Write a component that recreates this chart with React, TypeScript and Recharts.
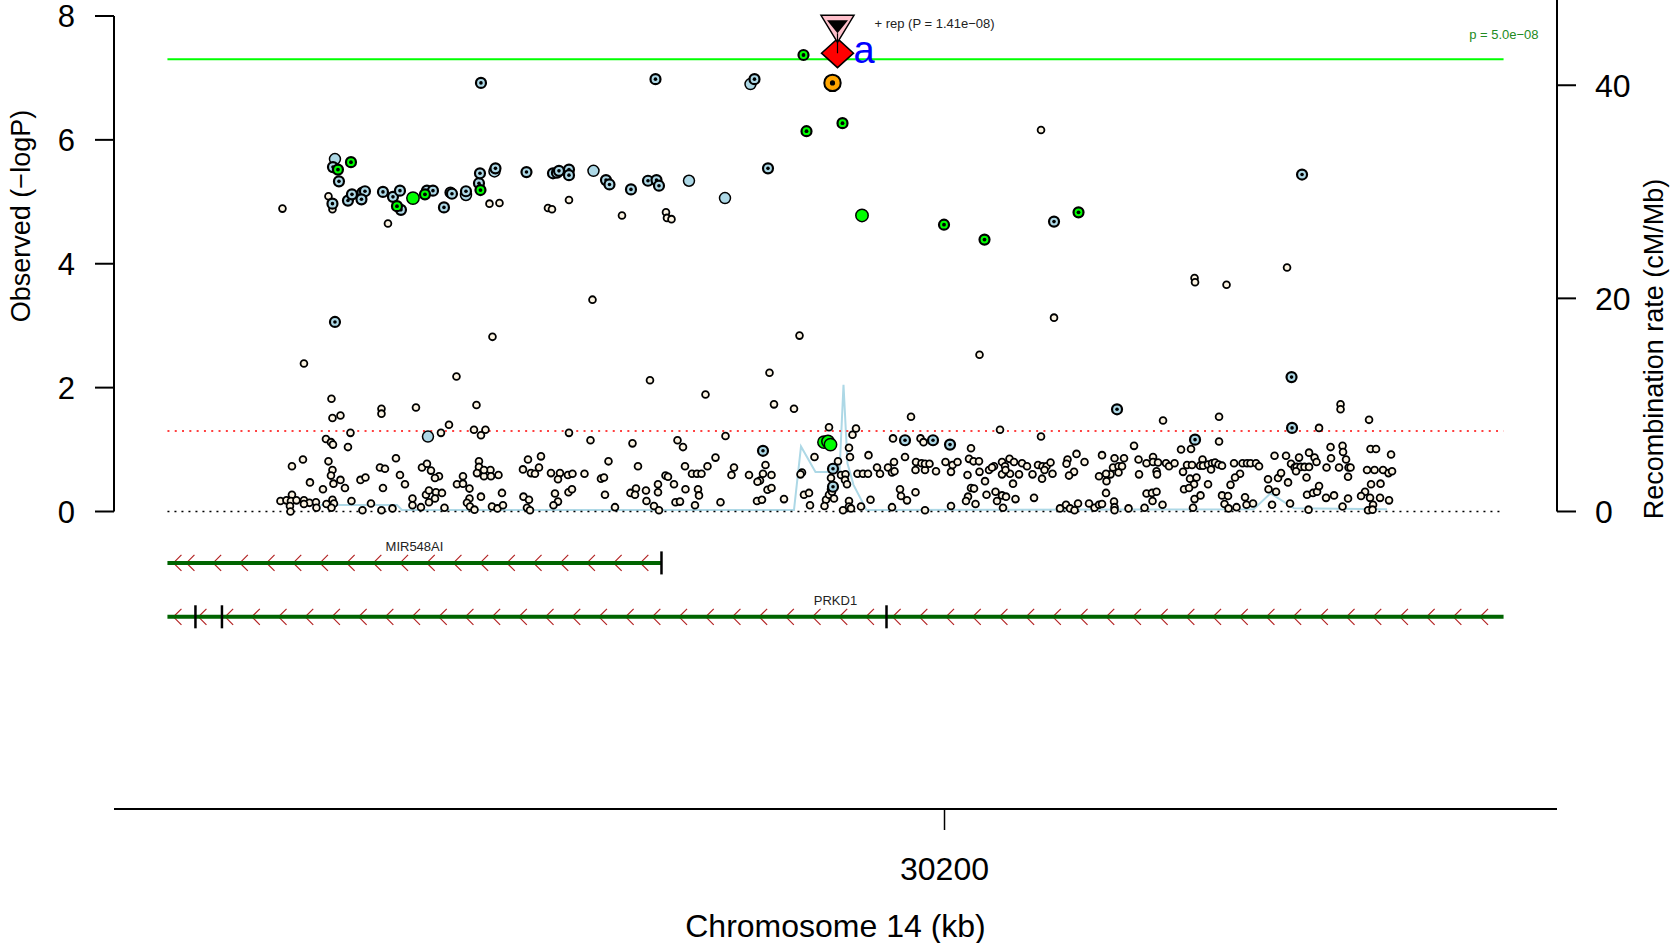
import React from 'react';
import { ComposedChart, Scatter, Line, XAxis, YAxis, ReferenceLine } from 'recharts';

const FONT = '"Liberation Sans", Arial, Helvetica, sans-serif';

// region on chromosome 14, kb
const regionStart = 30044.6;
const regionEnd = 30311.8;
const xTicks = [30200];
const logPTicks = [0, 2, 4, 6, 8];
const recombTicks = [0, 20, 40];

const genomeWideLogP = 7.3; // p = 5.0e-08
const nominalLogP = 1.301; // p = 0.05

// [kb, -log10 P] by LD group
const lowLdSnps: [number, number][] = [
  [30067.6, 4.89], [30219.3, 6.16], [30250.0, 3.77], [30250.1, 3.7], [30256.4, 3.66], [30268.5, 3.94],
  [30221.9, 3.13], [30207.0, 2.53], [30129.6, 3.42], [30171.0, 2.84], [30165.0, 2.24], [30141.1, 2.12],
  [30152.2, 1.89], [30109.6, 2.82], [30071.9, 2.39], [30102.4, 2.18], [30077.4, 1.82],
  [30076.8, 5.09], [30077.6, 4.88], [30088.7, 4.65], [30109.0, 4.97], [30111.0, 4.98], [30120.7, 4.9],
  [30121.5, 4.88], [30124.9, 5.03], [30135.5, 4.78], [30144.3, 4.83], [30144.5, 4.74], [30145.4, 4.72],
  [30087.4, 1.66], [30087.4, 1.58], [30094.3, 1.68], [30106.4, 1.72], [30077.6, 1.51], [30079.2, 1.55],
  [30100.9, 1.4], [30081.2, 1.27], [30099.3, 1.27], [30105.9, 1.32], [30108.2, 1.32], [30107.3, 1.23],
  [30124.9, 1.27], [30129.2, 1.15], [30137.6, 1.1], [30076.3, 1.17], [30077.3, 1.12], [30077.7, 1.08],
  [30080.7, 1.04], [30090.3, 0.86], [30119.3, 0.89], [30116.7, 0.84], [30132.8, 0.81], [30071.7, 0.84],
  [30069.5, 0.73], [30076.8, 0.81], [30077.6, 0.67], [30077.3, 0.58], [30087.1, 0.71], [30088.1, 0.69],
  [30095.5, 0.71], [30096.5, 0.77], [30097.3, 0.66], [30098.9, 0.57], [30098.1, 0.54], [30091.1, 0.59],
  [30106.9, 0.81], [30106.9, 0.72], [30106.5, 0.62], [30107.9, 0.57], [30109.2, 0.67], [30109.3, 0.57],
  [30110.8, 0.59], [30107.9, 0.67], [30103.7, 0.57], [30115.7, 0.68], [30117.3, 0.62], [30118.1, 0.61],
  [30118.9, 0.71], [30121.3, 0.62], [30123.1, 0.62], [30122.7, 0.52], [30124.7, 0.59], [30125.6, 0.61],
  [30128.0, 0.61], [30131.3, 0.53], [30131.9, 0.55], [30138.7, 0.73], [30073.1, 0.47], [30079.2, 0.51],
  [30077.8, 0.45], [30080.1, 0.38], [30075.7, 0.36], [30083.2, 0.51], [30084.2, 0.55], [30087.7, 0.38],
  [30092.1, 0.44], [30102.5, 0.44], [30103.7, 0.45], [30105.0, 0.37], [30069.5, 0.27], [30067.2, 0.17],
  [30068.4, 0.18], [30069.3, 0.17], [30070.4, 0.18], [30071.9, 0.18], [30073.0, 0.14], [30074.3, 0.15],
  [30071.9, 0.12], [30069.1, 0.09], [30069.2, 0.0], [30074.4, 0.06], [30076.4, 0.12], [30077.6, 0.19],
  [30077.9, 0.13], [30077.4, 0.06], [30081.4, 0.17], [30085.3, 0.13], [30083.6, 0.02], [30087.4, 0.02],
  [30089.6, 0.05], [30093.6, 0.21], [30093.6, 0.1], [30095.3, 0.07], [30096.3, 0.27], [30096.9, 0.34],
  [30098.3, 0.31], [30099.5, 0.3], [30098.1, 0.21], [30096.9, 0.15], [30100.0, 0.06], [30105.0, 0.21],
  [30104.5, 0.14], [30105.1, 0.08], [30106.0, 0.03], [30107.3, 0.24], [30109.5, 0.08], [30110.6, 0.05],
  [30111.7, 0.1], [30111.5, 0.3], [30115.8, 0.24], [30116.9, 0.19], [30116.5, 0.06], [30117.1, 0.02],
  [30122.1, 0.29], [30122.7, 0.16], [30121.8, 0.1], [30124.8, 0.31], [30125.5, 0.36], [30132.1, 0.27],
  [30134.1, 0.07], [30137.2, 0.3], [30138.3, 0.37], [30138.1, 0.27], [30140.3, 0.34], [30140.4, 0.17],
  [30165.9, 1.73], [30169.9, 1.66], [30193.3, 1.53], [30176.9, 1.36], [30182.3, 1.34], [30181.6, 1.24],
  [30211.1, 1.32], [30156.2, 1.22], [30146.6, 1.15], [30147.7, 1.04], [30189.7, 1.18], [30195.2, 1.18],
  [30195.8, 1.12], [30205.3, 1.02], [30180.9, 1.03], [30181.1, 0.88], [30174.0, 0.88], [30154.2, 0.87],
  [30184.8, 0.91], [30192.1, 0.88], [30178.7, 0.81], [30148.1, 0.73], [30152.6, 0.73], [30157.9, 0.71],
  [30157.4, 0.59], [30149.5, 0.61], [30150.5, 0.61], [30151.4, 0.61], [30160.9, 0.59], [30164.2, 0.75],
  [30163.7, 0.61], [30165.4, 0.59], [30163.1, 0.5], [30162.6, 0.48], [30171.5, 0.63], [30171.2, 0.6],
  [30177.3, 0.54], [30179.3, 0.59], [30180.2, 0.6], [30180.1, 0.51], [30180.5, 0.44], [30182.6, 0.61],
  [30183.7, 0.61], [30184.7, 0.61], [30186.5, 0.71], [30187.1, 0.61], [30188.7, 0.71], [30189.5, 0.63],
  [30190.0, 0.65], [30189.9, 0.8], [30194.3, 0.8], [30194.2, 0.67], [30195.4, 0.78], [30196.1, 0.67],
  [30196.1, 0.77], [30197.0, 0.77], [30198.3, 0.65], [30200.2, 0.8], [30201.3, 0.64], [30201.6, 0.75],
  [30202.6, 0.8], [30204.9, 0.85], [30205.8, 0.81], [30206.9, 0.81], [30204.6, 0.59], [30207.0, 0.64],
  [30208.9, 0.67], [30209.9, 0.73], [30209.5, 0.71], [30211.5, 0.8], [30212.1, 0.73], [30213.0, 0.85],
  [30213.9, 0.8], [30215.5, 0.78], [30211.5, 0.6], [30213.1, 0.61], [30214.9, 0.6], [30212.2, 0.67],
  [30208.1, 0.49], [30213.7, 0.45], [30205.3, 0.38], [30205.9, 0.37], [30208.4, 0.27], [30210.2, 0.32],
  [30211.5, 0.26], [30210.5, 0.17], [30212.3, 0.24], [30214.2, 0.2], [30211.7, 0.06], [30204.7, 0.24],
  [30204.3, 0.17], [30206.2, 0.12], [30142.7, 0.44], [30142.7, 0.31], [30144.2, 0.58], [30144.7, 0.56],
  [30145.9, 0.44], [30148.2, 0.36], [30150.7, 0.36], [30150.9, 0.26], [30141.9, 0.09], [30142.9, 0.02],
  [30146.2, 0.15], [30147.1, 0.16], [30150.1, 0.1], [30155.2, 0.15], [30162.5, 0.17], [30163.5, 0.19],
  [30164.6, 0.35], [30165.4, 0.38], [30167.9, 0.2], [30171.9, 0.27], [30172.9, 0.3], [30173.1, 0.1],
  [30176.3, 0.19], [30176.0, 0.09], [30176.9, 0.27], [30177.3, 0.36], [30177.9, 0.21], [30177.5, 0.32],
  [30179.7, 0.02], [30180.9, 0.17], [30180.9, 0.08], [30181.3, 0.05], [30183.3, 0.08], [30185.2, 0.19],
  [30189.5, 0.07], [30191.1, 0.36], [30191.3, 0.25], [30192.5, 0.18], [30194.2, 0.31], [30196.1, 0.02],
  [30201.3, 0.09], [30279.2, 1.73], [30279.2, 1.65], [30243.7, 1.47], [30254.9, 1.53], [30284.9, 1.48],
  [30274.9, 1.35], [30219.3, 1.21], [30254.9, 1.13], [30237.9, 1.06], [30247.3, 1.0], [30249.3, 1.01],
  [30277.2, 1.04], [30279.6, 1.06], [30279.7, 0.96], [30272.9, 0.95], [30285.2, 1.01], [30286.3, 1.01],
  [30216.5, 0.73], [30218.7, 0.75], [30219.6, 0.73], [30220.4, 0.73], [30221.2, 0.79], [30220.0, 0.67],
  [30219.5, 0.53], [30221.6, 0.61], [30217.6, 0.6], [30224.6, 0.84], [30224.4, 0.77], [30226.4, 0.93],
  [30228.0, 0.8], [30225.9, 0.64], [30224.9, 0.58], [30231.5, 0.91], [30234.0, 0.86], [30235.9, 0.86],
  [30233.7, 0.71], [30234.8, 0.73], [30235.5, 0.73], [30233.2, 0.6], [30232.3, 0.61], [30232.4, 0.49],
  [30230.9, 0.57], [30234.8, 0.63], [30238.8, 0.84], [30238.9, 0.6], [30240.4, 0.78], [30241.7, 0.88],
  [30241.7, 0.8], [30242.7, 0.79], [30242.4, 0.65], [30242.5, 0.6], [30244.3, 0.78], [30244.9, 0.73],
  [30246.0, 0.78], [30247.7, 0.64], [30248.5, 0.75], [30249.5, 0.75], [30249.1, 0.53], [30250.4, 0.55],
  [30251.6, 0.84], [30251.1, 0.74], [30251.7, 0.74], [30252.7, 0.76], [30253.5, 0.78], [30254.1, 0.79],
  [30253.3, 0.68], [30254.8, 0.76], [30255.5, 0.74], [30249.9, 0.44], [30247.9, 0.36], [30248.9, 0.38],
  [30252.7, 0.44], [30257.9, 0.78], [30259.1, 0.61], [30258.1, 0.55], [30259.6, 0.78], [30260.5, 0.78],
  [30261.2, 0.78], [30262.3, 0.78], [30262.9, 0.73], [30257.2, 0.43], [30264.7, 0.52], [30266.0, 0.9],
  [30266.7, 0.54], [30267.3, 0.62], [30268.3, 0.9], [30268.7, 0.47], [30264.8, 0.36], [30266.3, 0.32],
  [30269.3, 0.77], [30270.0, 0.71], [30270.4, 0.72], [30271.2, 0.72], [30272.0, 0.72], [30270.3, 0.65],
  [30270.9, 0.87], [30272.4, 0.55], [30272.9, 0.72], [30274.0, 0.87], [30274.4, 0.8], [30272.5, 0.27],
  [30273.7, 0.3], [30274.5, 0.32], [30274.9, 0.41], [30276.4, 0.71], [30277.3, 0.86], [30278.9, 0.71],
  [30280.3, 0.84], [30280.8, 0.71], [30281.2, 0.71], [30280.7, 0.56], [30276.3, 0.22], [30277.9, 0.26],
  [30280.7, 0.21], [30284.5, 0.67], [30286.0, 0.67], [30287.7, 0.67], [30288.8, 0.62], [30289.3, 0.92],
  [30289.5, 0.65], [30285.3, 0.44], [30287.2, 0.45], [30284.1, 0.32], [30283.3, 0.25], [30285.1, 0.22],
  [30287.1, 0.22], [30288.9, 0.18], [30285.7, 0.11], [30284.7, 0.02], [30285.6, 0.03], [30217.9, 0.22],
  [30232.3, 0.3], [30240.4, 0.29], [30241.5, 0.3], [30242.4, 0.32], [30241.6, 0.17], [30243.6, 0.11],
  [30250.0, 0.2], [30251.2, 0.26], [30249.7, 0.06], [30255.5, 0.26], [30256.7, 0.25], [30256.0, 0.12],
  [30256.8, 0.05], [30258.4, 0.07], [30260.1, 0.23], [30260.4, 0.11], [30261.7, 0.13], [30265.5, 0.11],
  [30269.1, 0.13], [30223.1, 0.05], [30224.3, 0.11], [30225.1, 0.05], [30226.0, 0.02], [30226.7, 0.13],
  [30228.9, 0.13], [30230.0, 0.06], [30230.9, 0.11], [30231.5, 0.12], [30233.9, 0.16], [30234.0, 0.07],
  [30234.0, 0.02], [30236.8, 0.05], [30240.0, 0.06], [30272.8, 0.03], [30279.6, 0.08],
];

const midLdSnps: [number, number][] = [
  [30077.7, 5.56], [30078.9, 5.33], [30077.6, 4.97], [30080.7, 5.02], [30081.5, 5.12], [30083.6, 5.15],
  [30084.1, 5.17], [30083.4, 5.04], [30087.7, 5.16], [30089.7, 5.08], [30091.1, 5.18], [30091.3, 4.87],
  [30096.5, 5.18], [30097.7, 5.18], [30099.9, 4.91], [30101.2, 5.15], [30101.5, 5.13], [30104.3, 5.17],
  [30106.9, 5.3], [30107.1, 5.46], [30110.2, 5.54], [30116.4, 5.48], [30121.7, 5.46], [30122.5, 5.47],
  [30122.9, 5.5], [30124.9, 5.52], [30124.9, 5.43], [30132.3, 5.35], [30133.0, 5.28], [30137.3, 5.2],
  [30140.7, 5.34], [30142.4, 5.35], [30142.9, 5.26], [30164.7, 5.54], [30107.3, 6.92], [30142.2, 6.98],
  [30162.0, 6.98], [30078.1, 3.06], [30221.9, 4.68], [30271.5, 5.44], [30269.4, 2.17], [30163.7, 0.98],
  [30192.1, 1.15], [30197.7, 1.15], [30201.1, 1.08], [30177.7, 0.69], [30177.7, 0.4], [30234.5, 1.65],
  [30250.1, 1.16], [30269.5, 1.35],
];

const midLdPlainSnps: [number, number][] = [
  [30078.1, 5.69], [30104.3, 5.11], [30110.0, 5.49], [30129.8, 5.5], [30148.9, 5.34], [30156.1, 5.06],
  [30161.2, 6.9], [30096.7, 1.21],
];

const highLdSnps: [number, number][] = [
  [30078.7, 5.52], [30081.3, 5.64], [30090.5, 4.93], [30096.1, 5.12], [30107.2, 5.19], [30171.8, 7.37],
  [30172.4, 6.14], [30179.6, 6.27], [30199.9, 4.63], [30208.0, 4.39], [30226.8, 4.83],
];

const highLdPlainSnps: [number, number][] = [
  [30093.7, 5.06], [30183.5, 4.78], [30175.9, 1.12], [30176.7, 1.13], [30177.2, 1.08],
];

const topLdSnps: [number, number][] = [[30177.6, 6.92]];
const refSnp: [number, number][] = [[30178.6, 7.4]];
const repSnp: [number, number][] = [[30178.6, 7.85]];
const repLabel = '+ rep (P = 1.41e\u221208)';
const refLabel = 'a';

// recombination rate, cM/Mb
const recombPos = [
  30075.2, 30090.5, 30091.5, 30169.9, 30171.3, 30174.2, 30179.0, 30179.8, 30180.6, 30181.8, 30184.4,
  30261.8, 30265.2, 30269.9, 30288.5,
];
const recombRate = [0.6, 0.6, 0.15, 0.15, 6.1, 3.7, 3.7, 11.9, 4.5, 2.5, 0.15, 0.2, 1.7, 0.3, 0.2];

// genes (kb), minus strand
const geneNames = ['MIR548AI', 'PRKD1'];
const geneStart = [30044.6, 30044.6];
const geneEnd = [30143.4, 30311.8];
const geneExons = [[30143.4], [30050.2, 30055.5, 30188.4]];

// layout
const W = 1670;
const H = 943;
const pad = (regionEnd - regionStart) * 0.04;
const xMin = regionStart - pad;
const xMax = regionEnd + pad;
const LOGP_DOMAIN: [number, number] = [-4.803, 8.258];
const RECOMB_DOMAIN: [number, number] = [-27.92, 48.0];
const GENE_ROW = [-0.83, -1.7];
const EXON_HALF = 0.186;
const ARROW_PHASE = [19, 31];

const toPts = (arr: [number, number][]) => arr.map(([kb, logp]) => ({ kb, logp }));
const recombData = recombPos.map((kb, i) => ({ kb, rate: recombRate[i] }));

const ringDot = (fill: string, r: number, sw: number, dot: number) => (p: any) => {
  const { cx, cy } = p;
  if (cx == null || cy == null) return <g />;
  return (
    <g>
      <circle cx={cx} cy={cy} r={r} fill={fill} stroke="#000" strokeWidth={sw} />
      {dot > 0 && <circle cx={cx} cy={cy} r={dot} fill="#000" />}
    </g>
  );
};

const diamondShape = (p: any) => {
  const { cx, cy } = p;
  return (
    <g>
      <polygon
        points={`${cx},${cy - 14.5} ${cx + 16},${cy} ${cx},${cy + 14.5} ${cx - 16},${cy}`}
        fill="#FF0000"
        stroke="#000"
        strokeWidth={1.5}
      />
      <text x={cx + 16} y={cy + 10} fontSize={38} fill="#0000FF" fontFamily={FONT}>
        {refLabel}
      </text>
    </g>
  );
};

const repShape = (p: any) => {
  const { cx, cy } = p;
  return (
    <g>
      <polygon
        points={`${cx - 16.5},${cy - 10} ${cx + 16.5},${cy - 10} ${cx},${cy + 17}`}
        fill="#FFC0CB"
        stroke="#000"
        strokeWidth={1.5}
      />
      <polygon points={`${cx - 10.5},${cy - 5} ${cx + 10.5},${cy - 5} ${cx},${cy + 8}`} fill="#000" />
      <line x1={cx} y1={cy + 8} x2={cx} y2={cy + 28} stroke="#000" strokeWidth={1.2} />
      <text x={cx + 37} y={cy + 2.8} fontSize={13} fill="#222" fontFamily={FONT}>
        {repLabel}
      </text>
    </g>
  );
};

const geneShape = (name: string, phase: number) => (p: any) => {
  const { x1, x2, y1 } = p;
  const left = Math.min(x1, x2);
  const right = Math.max(x1, x2);
  const arrows: number[] = [left + 6];
  for (let x = left + phase; x < right - 10; x += 26.7) arrows.push(x);
  return (
    <g>
      {arrows.map((x, i) => (
        <polyline
          key={i}
          points={`${x + 8},${y1 - 8} ${x},${y1} ${x + 8},${y1 + 8}`}
          fill="none"
          stroke="#B22222"
          strokeWidth={1.2}
        />
      ))}
      <line x1={left} y1={y1} x2={right} y2={y1} stroke="#006400" strokeWidth={4} />
      <text x={(left + right) / 2} y={y1 - 12} textAnchor="middle" fontSize={13} fill="#222" fontFamily={FONT}>
        {name}
      </text>
    </g>
  );
};

const gwsShape = (p: any) => {
  const { x1, x2, y1 } = p;
  return (
    <g>
      <line x1={x1} y1={y1} x2={x2} y2={y1} stroke="#00FF00" strokeWidth={2} />
      <text x={Math.max(x1, x2) + 35} y={y1 - 20} textAnchor="end" fontSize={13} fill="#228B22" fontFamily={FONT}>
        p = 5.0e{'\u2212'}08
      </text>
    </g>
  );
};

export default function App() {
  return (
    <div style={{ position: 'absolute', left: 0, top: 0, background: '#fff' }}>
      <ComposedChart width={W} height={H} margin={{ top: 0, right: 0, bottom: 0, left: 0 }}>
        <XAxis
          type="number"
          dataKey="kb"
          domain={[xMin, xMax]}
          allowDataOverflow
          ticks={xTicks}
          interval={0}
          height={134}
          tickSize={21}
          tickMargin={27}
          axisLine={{ stroke: '#000', strokeWidth: 2 }}
          tickLine={{ stroke: '#000', strokeWidth: 1.5 }}
          tick={{ fontSize: 32, fill: '#000', fontFamily: FONT }}
          tickFormatter={(v: number) => String(v)}
          label={{
            content: () => (
              <text x={835.5} y={937} textAnchor="middle" fontSize={32} fill="#000" fontFamily={FONT}>
                Chromosome 14 (kb)
              </text>
            ),
          }}
        />
        <YAxis
          yAxisId="left"
          dataKey="logp"
          type="number"
          domain={LOGP_DOMAIN}
          allowDataOverflow
          ticks={logPTicks}
          interval={0}
          width={114}
          tickSize={19}
          tickMargin={20}
          axisLine={false}
          tickLine={{ stroke: '#000', strokeWidth: 2 }}
          tick={{ fontSize: 31, fill: '#000', fontFamily: FONT }}
          label={{
            content: () => (
              <text
                transform="translate(21,216) rotate(-90)"
                textAnchor="middle"
                dominantBaseline="central"
                fontSize={27}
                fill="#000"
                fontFamily={FONT}
              >
                Observed ({'\u2212'}logP)
              </text>
            ),
          }}
        />
        <YAxis
          yAxisId="right"
          orientation="right"
          dataKey="rate"
          type="number"
          domain={RECOMB_DOMAIN}
          allowDataOverflow
          ticks={recombTicks}
          interval={0}
          width={113}
          tickSize={19}
          tickMargin={19}
          axisLine={false}
          tickLine={{ stroke: '#000', strokeWidth: 2 }}
          tick={{ fontSize: 32, fill: '#000', fontFamily: FONT }}
          label={{
            content: () => (
              <text
                transform="translate(1654,349) rotate(-90)"
                textAnchor="middle"
                dominantBaseline="central"
                fontSize={27}
                fill="#000"
                fontFamily={FONT}
              >
                Recombination rate (cM/Mb)
              </text>
            ),
          }}
        />

        <Line
          yAxisId="right"
          data={recombData}
          dataKey="rate"
          type="linear"
          stroke="#ADD8E6"
          strokeWidth={2}
          dot={false}
          activeDot={false}
          isAnimationActive={false}
        />

        <ReferenceLine
          yAxisId="left"
          ifOverflow="visible"
          segment={[{ x: regionStart, y: 0 }, { x: regionEnd, y: 0 }]}
          stroke="#000"
          strokeWidth={1.5}
          strokeDasharray="2 5"
        />
        <ReferenceLine
          yAxisId="left"
          ifOverflow="visible"
          segment={[{ x: regionStart, y: nominalLogP }, { x: regionEnd, y: nominalLogP }]}
          stroke="#FF0000"
          strokeWidth={1.5}
          strokeDasharray="2 5.3"
        />
        <ReferenceLine
          yAxisId="left"
          ifOverflow="visible"
          segment={[{ x: regionStart, y: genomeWideLogP }, { x: regionEnd, y: genomeWideLogP }]}
          shape={gwsShape}
        />

        {geneNames.map((name, g) => (
          <ReferenceLine
            key={name}
            yAxisId="left"
            ifOverflow="visible"
            segment={[{ x: geneStart[g], y: GENE_ROW[g] }, { x: geneEnd[g], y: GENE_ROW[g] }]}
            shape={geneShape(name, ARROW_PHASE[g])}
          />
        ))}
        {geneExons.map((exons, g) =>
          exons.map((kb, i) => (
            <ReferenceLine
              key={`${g}-${i}`}
              yAxisId="left"
              ifOverflow="visible"
              segment={[{ x: kb, y: GENE_ROW[g] - EXON_HALF }, { x: kb, y: GENE_ROW[g] + EXON_HALF }]}
              stroke="#000"
              strokeWidth={2.5}
            />
          )),
        )}

        <ReferenceLine
          yAxisId="left"
          ifOverflow="visible"
          segment={[{ x: xMin, y: 0 }, { x: xMin, y: 8 }]}
          stroke="#000"
          strokeWidth={2}
        />
        <ReferenceLine
          yAxisId="right"
          ifOverflow="visible"
          segment={[{ x: xMax, y: 0 }, { x: xMax, y: RECOMB_DOMAIN[1] }]}
          stroke="#000"
          strokeWidth={2}
        />

        <Scatter yAxisId="left" data={toPts(lowLdSnps)} shape={ringDot('#FBF3E2', 3.4, 1.8, 0)} isAnimationActive={false} />
        <Scatter yAxisId="left" data={toPts(midLdPlainSnps)} shape={ringDot('#ADD8E6', 5.5, 1.5, 0)} isAnimationActive={false} />
        <Scatter yAxisId="left" data={toPts(midLdSnps)} shape={ringDot('#ADD8E6', 5, 2.2, 1.8)} isAnimationActive={false} />
        <Scatter yAxisId="left" data={toPts(highLdPlainSnps)} shape={ringDot('#00FF00', 6.2, 1.5, 0)} isAnimationActive={false} />
        <Scatter yAxisId="left" data={toPts(highLdSnps)} shape={ringDot('#00FF00', 5, 2.2, 1.9)} isAnimationActive={false} />
        <Scatter yAxisId="left" data={toPts(topLdSnps)} shape={ringDot('#FFA500', 8.2, 2, 2.6)} isAnimationActive={false} />
        <Scatter yAxisId="left" data={toPts(refSnp)} shape={diamondShape} isAnimationActive={false} />
        <Scatter yAxisId="left" data={toPts(repSnp)} shape={repShape} isAnimationActive={false} />
      </ComposedChart>
    </div>
  );
}
